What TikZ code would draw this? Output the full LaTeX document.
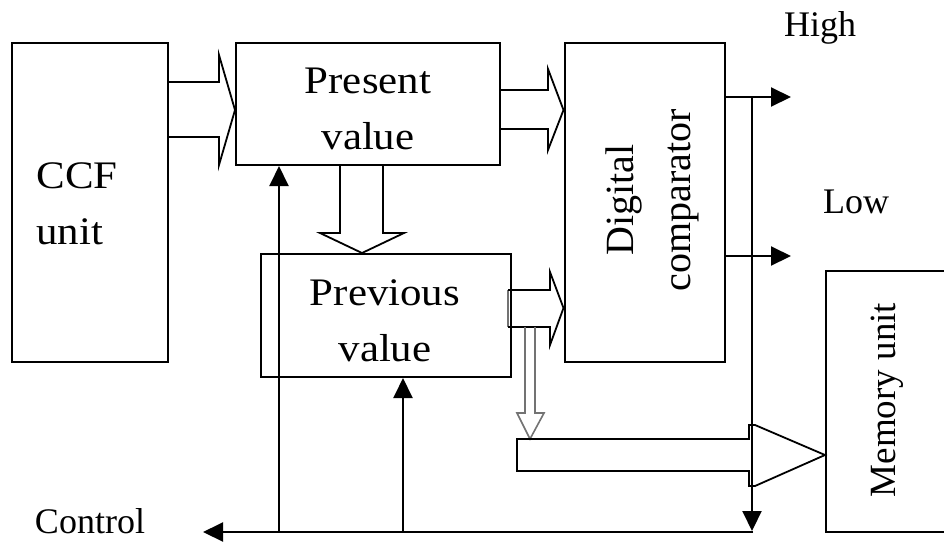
\documentclass[tikz,border=0pt]{standalone}
\usepackage{fontspec}
\setmainfont{Liberation Serif}
\usetikzlibrary{arrows.meta}

% box captions are set slightly wide
\newcommand{\widetxt}[2][c]{\scalebox{1.1}[1]{\begin{tabular}{@{}#1@{}}#2\end{tabular}}}

\begin{document}
\begin{tikzpicture}[x=1pt,y=-1pt,
  box/.style={draw, line width=2pt, inner sep=0pt},
  boxtxt/.style={inner sep=0pt, align=center, font=\fontsize{39}{56}\selectfont},
  vtxt/.style={inner sep=0pt, align=center, rotate=90, font=\fontsize{40}{57}\selectfont},
  lbl/.style={inner sep=0pt, font=\fontsize{36}{40}\selectfont},
  sig/.style={-{Triangle[length=20pt,width=19pt]}, line width=2pt},
  bus/.style={line width=1.8pt, line join=miter},
  thinbus/.style={line width=1.6pt, draw=black!55, line join=miter}]
\useasboundingbox (0,0) rectangle (944,542);

% blocks
\node[box, minimum width=156pt, minimum height=319pt] (ccf) at (90,202.5) {};
\node[boxtxt] (ccft) at (77,205) {\widetxt[l]{CCF\\unit}};

\node[box, minimum width=264pt, minimum height=122pt] (pv) at (368,104) {};
\node[boxtxt] (pvt) at (368,110) {\widetxt{Present\\value}};

\node[box, minimum width=250pt, minimum height=123pt] (prev) at (386,315.5) {};
\node[boxtxt] (prevt) at (385,322) {\widetxt{Previous\\value}};

\node[box, minimum width=160pt, minimum height=319pt] (dc) at (644.5,202.5) {};
\node[vtxt] (dct) at (652,200) {Digital\\comparator};

\node[box, minimum width=122pt, minimum height=261pt] (mem) at (887,401.5) {};
\node[vtxt, font=\fontsize{37}{44}\selectfont] (memt) at (887,400) {Memory unit};

% free labels
\node[lbl] (high) at (820,28) {High};
\node[lbl] (low) at (856,202) {Low};
\node[lbl] (ctrl) at (90,521) {Control};

% wide data paths (hollow block arrows)
\draw[bus] (ccf.east |- 0,82) -- (219,82) -- (219,55) -- (pv.west |- 0,110)
  -- (219,165) -- (219,137) -- (ccf.east |- 0,137);
\draw[bus] (pv.east |- 0,90) -- (548,90) -- (548,69) -- (dc.west |- 0,110)
  -- (548,150) -- (548,129) -- (pv.east |- 0,129);
\draw[bus] (pv.south -| 340,0) -- (340,233) -- (320,233) -- (prev.north -| 362,0)
  -- (404,233) -- (383,233) -- (pv.south -| 383,0);
\draw[thinbus] (508,327) -- (508,290);
\draw[bus] (508,290) -- (550,290) -- (550,272) -- (dc.west |- 0,308)
  -- (550,345) -- (550,327) -- (508,327);
\draw[thinbus] (525,327) -- (525,413) -- (517,413) -- (530,439)
  -- (544,413) -- (535,413) -- (535,327);
\draw[bus] (517,439) -- (749,439) -- (749,425) -- (755,425) -- (mem.west |- 0,455)
  -- (755,486) -- (749,486) -- (749,471) -- (517,471) -- cycle;

% comparator outputs
\coordinate (hi) at (791,97);
\coordinate (lo) at (791,256);
\draw[sig] (dc.east |- hi) -- (hi);
\draw[sig] (dc.east |- lo) -- (lo);

% feedback to the control line
\coordinate (vtop) at (752,97);
\coordinate (vbot) at (752,531);
\draw[sig] (vtop) -- (vbot);
\coordinate (cb) at (753,532);
\coordinate (cend) at (203,532);
\draw[sig] (cb) -- (cend);

% control to the registers
\coordinate (c1) at (279,532);
\coordinate (c2) at (403,532);
\draw[sig] (c1) -- (c1 |- pv.south);
\draw[sig] (c2) -- (c2 |- prev.south);
\end{tikzpicture}
\end{document}
